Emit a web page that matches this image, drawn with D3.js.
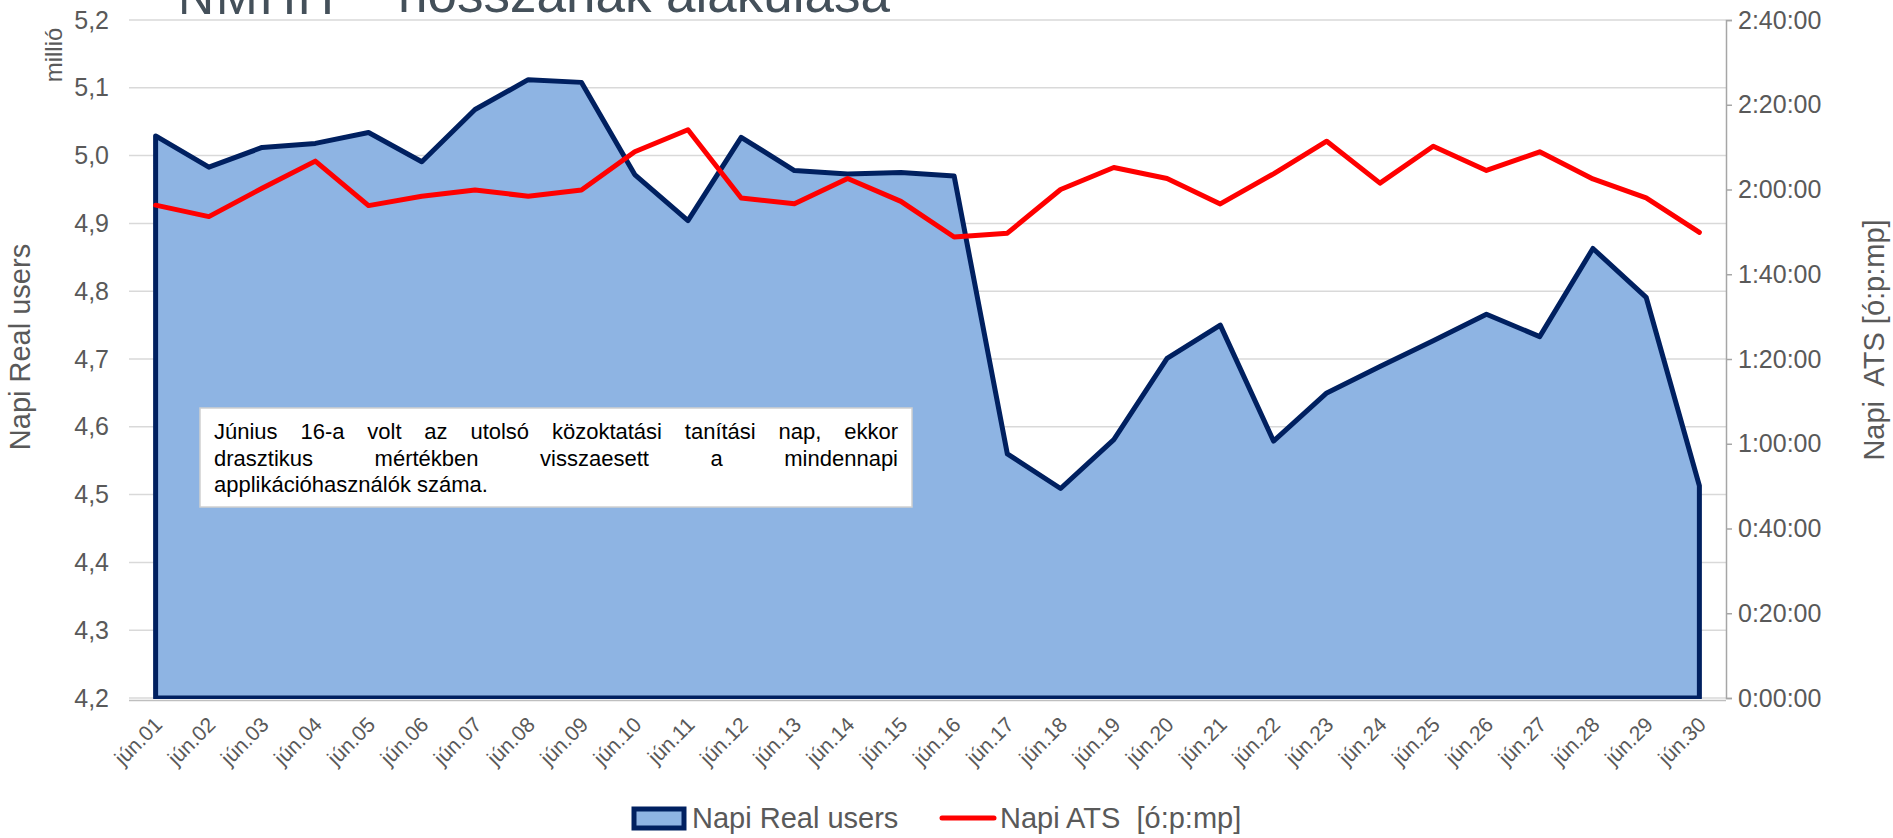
<!DOCTYPE html>
<html>
<head>
<meta charset="utf-8">
<script src="https://cdn.jsdelivr.net/npm/d3@7"></script>
<style>
  html, body { margin: 0; padding: 0; background: #ffffff; overflow: hidden; }
  svg { display: block; font-family: "Liberation Sans", Arial, sans-serif; }
</style>
</head>
<body>
<svg id="chart" width="1893" height="838"></svg>
<script>
// ---- data ----
const categories = ["jún.01","jún.02","jún.03","jún.04","jún.05","jún.06","jún.07","jún.08","jún.09","jún.10",
  "jún.11","jún.12","jún.13","jún.14","jún.15","jún.16","jún.17","jún.18","jún.19","jún.20",
  "jún.21","jún.22","jún.23","jún.24","jún.25","jún.26","jún.27","jún.28","jún.29","jún.30"];

// Napi Real users (millió)
const realUsers = [5.029, 4.983, 5.012, 5.018, 5.034, 4.991, 5.068, 5.112, 5.108, 4.972,
  4.904, 5.027, 4.978, 4.973, 4.975, 4.970, 4.560, 4.509, 4.581, 4.701,
  4.750, 4.579, 4.650, 4.689, 4.727, 4.766, 4.733, 4.863, 4.791, 4.513];

// Napi ATS [ó:p:mp]
const atsValues = ["1:56:18","1:53:36","2:00:18","2:06:42","1:56:12","1:58:24","1:59:54","1:58:24","1:59:54","2:08:54",
  "2:14:06","1:58:00","1:56:39","2:02:36","1:57:12","1:48:48","1:49:42","2:00:00","2:05:12","2:02:36",
  "1:56:36","2:03:42","2:11:24","2:01:30","2:10:12","2:04:30","2:08:54","2:02:30","1:58:00","1:49:54"];

const leftTicks = [4.2, 4.3, 4.4, 4.5, 4.6, 4.7, 4.8, 4.9, 5.0, 5.1, 5.2];
const rightTickLabels = ["0:00:00","0:20:00","0:40:00","1:00:00","1:20:00","1:40:00","2:00:00","2:20:00","2:40:00"];

const seriesNames = ["Napi Real users", "Napi ATS  [ó:p:mp]"];
const leftTitle = "Napi Real users";
const rightTitle = "Napi  ATS [ó:p:mp]";
const unitLabel = "millió";
const titleText = "hosszának alakulása";
const logoText = "NMHH";
const noteLines = [
  "Június 16-a volt az utolsó közoktatási tanítási nap, ekkor",
  "drasztikus mértékben visszaesett a mindennapi",
  "applikációhasználók száma."
];

// ---- helpers ----
const toSec = s => { const p = s.split(":").map(Number); return p[0]*3600 + p[1]*60 + p[2]; };
const ats = atsValues.map(toSec);
const rightTicks = rightTickLabels.map(toSec);

// ---- layout ----
const svg = d3.select("#chart");
const plot = { left: 129, right: 1726, top: 20, bottom: 698 };
const textGray = "#595959";
const navy = "#002060";
const fillBlue = "#8eb4e3";

const x = d3.scaleBand().domain(categories).range([plot.left, plot.right]);
const cx = c => x(c) + x.bandwidth() / 2;
const yL = d3.scaleLinear().domain([4.2, 5.2]).range([plot.bottom, plot.top]);
const yR = d3.scaleLinear().domain([0, 9600]).range([plot.bottom, plot.top]);

// title & logo (cut off at top, as in the source)
svg.append("text").attr("x", 178).attr("y", 14)
  .attr("font-size", 50).attr("fill", "#44505a").attr("letter-spacing", 2)
  .text(logoText);
svg.append("text").attr("x", 398).attr("y", 12)
  .attr("font-size", 53).attr("fill", "#44505a")
  .text(titleText);

// gridlines
svg.append("g").selectAll("line").data(leftTicks).join("line")
  .attr("x1", plot.left).attr("x2", plot.right)
  .attr("y1", d => yL(d)).attr("y2", d => yL(d))
  .attr("stroke", "#d9d9d9").attr("stroke-width", 1.5);

// area
svg.append("clipPath").attr("id", "plotclip").append("rect")
  .attr("x", 0).attr("y", 0).attr("width", 1893).attr("height", plot.bottom + 1);
const area = d3.area().x((d, i) => cx(categories[i])).y0(yL(4.2)).y1(d => yL(d));
svg.append("path").datum(realUsers)
  .attr("clip-path", "url(#plotclip)")
  .attr("d", area)
  .attr("fill", fillBlue).attr("stroke", navy).attr("stroke-width", 5)
  .attr("stroke-linejoin", "round");

// x axis line
svg.append("line").attr("x1", plot.left).attr("x2", plot.right)
  .attr("y1", plot.bottom + 2.5).attr("y2", plot.bottom + 2.5)
  .attr("stroke", "#bfbfbf").attr("stroke-width", 1.5);

// red line
const line = d3.line().x((d, i) => cx(categories[i])).y(d => yR(d));
svg.append("path").datum(ats)
  .attr("d", line).attr("fill", "none").attr("stroke", "#ff0000")
  .attr("stroke-width", 5).attr("stroke-linejoin", "round").attr("stroke-linecap", "round");

// left axis
const gL = svg.append("g").attr("transform", `translate(${plot.left},0)`)
  .call(d3.axisLeft(yL).tickValues(leftTicks).tickSize(0).tickPadding(20)
    .tickFormat(d => d3.format(".1f")(d).replace(".", ",")));
gL.select(".domain").remove();
gL.selectAll("text").attr("font-size", 25).attr("fill", textGray).attr("font-family", "Liberation Sans, Arial, sans-serif");

// right axis
const gR = svg.append("g").attr("transform", `translate(${plot.right},0)`)
  .call(d3.axisRight(yR).tickValues(rightTicks).tickSize(6).tickSizeOuter(6).tickPadding(6)
    .tickFormat((d, i) => rightTickLabels[i]));
gR.select(".domain").attr("stroke", "#a6a6a6").attr("stroke-width", 1.5);
gR.selectAll(".tick line").attr("stroke", "#a6a6a6").attr("stroke-width", 1.5);
gR.selectAll("text").attr("font-size", 25).attr("fill", textGray).attr("font-family", "Liberation Sans, Arial, sans-serif");

// x labels
const gX = svg.append("g").attr("transform", `translate(0,${plot.bottom + 6})`)
  .call(d3.axisBottom(x).tickSize(0).tickPadding(0));
gX.select(".domain").remove();
gX.selectAll("text")
  .attr("font-size", 21).attr("fill", textGray).attr("font-family", "Liberation Sans, Arial, sans-serif")
  .attr("text-anchor", "end").attr("dy", null).attr("y", 0)
  .attr("transform", "translate(8,22) rotate(-45)");

// axis titles
svg.append("text").attr("transform", "translate(30,347) rotate(-90)")
  .attr("text-anchor", "middle").attr("font-size", 29).attr("fill", textGray)
  .text(leftTitle);
svg.append("text").attr("transform", "translate(62,55) rotate(-90)")
  .attr("text-anchor", "middle").attr("font-size", 24).attr("fill", textGray)
  .text(unitLabel);
svg.append("text").attr("transform", "translate(1884,340) rotate(-90)")
  .attr("text-anchor", "middle").attr("font-size", 29).attr("fill", textGray)
  .attr("xml:space", "preserve").style("white-space", "pre")
  .text(rightTitle);

// annotation box
const box = { x: 200, y: 408, w: 712, h: 99 };
svg.append("rect").attr("x", box.x).attr("y", box.y).attr("width", box.w).attr("height", box.h)
  .attr("fill", "#ffffff").attr("stroke", "#d0d0d0").attr("stroke-width", 1.5);
const tLeft = 214, tRight = 898;
noteLines.forEach((ln, li) => {
  const yy = 439 + li * 26.5;
  const words = ln.split(" ");
  const g = svg.append("g");
  const nodes = words.map(w => g.append("text").attr("y", yy).attr("font-size", 22).attr("fill", "#000").text(w));
  const widths = nodes.map(n => n.node().getComputedTextLength());
  const total = d3.sum(widths);
  const justify = li < noteLines.length - 1;
  const gap = justify ? (tRight - tLeft - total) / (words.length - 1) : 6.1;
  let cur = tLeft;
  nodes.forEach((n, i) => { n.attr("x", cur); cur += widths[i] + gap; });
});

// legend
const lg = svg.append("g");
lg.append("rect").attr("x", 634).attr("y", 809).attr("width", 50).attr("height", 19)
  .attr("fill", fillBlue).attr("stroke", navy).attr("stroke-width", 5);
lg.append("text").attr("x", 692).attr("y", 828).attr("font-size", 29).attr("fill", textGray).text(seriesNames[0]);
lg.append("line").attr("x1", 942).attr("x2", 994).attr("y1", 818).attr("y2", 818)
  .attr("stroke", "#ff0000").attr("stroke-width", 5).attr("stroke-linecap", "round");
lg.append("text").attr("x", 1000).attr("y", 828).attr("font-size", 29).attr("fill", textGray)
  .attr("xml:space", "preserve").style("white-space", "pre").text(seriesNames[1]);
</script>
</body>
</html>
